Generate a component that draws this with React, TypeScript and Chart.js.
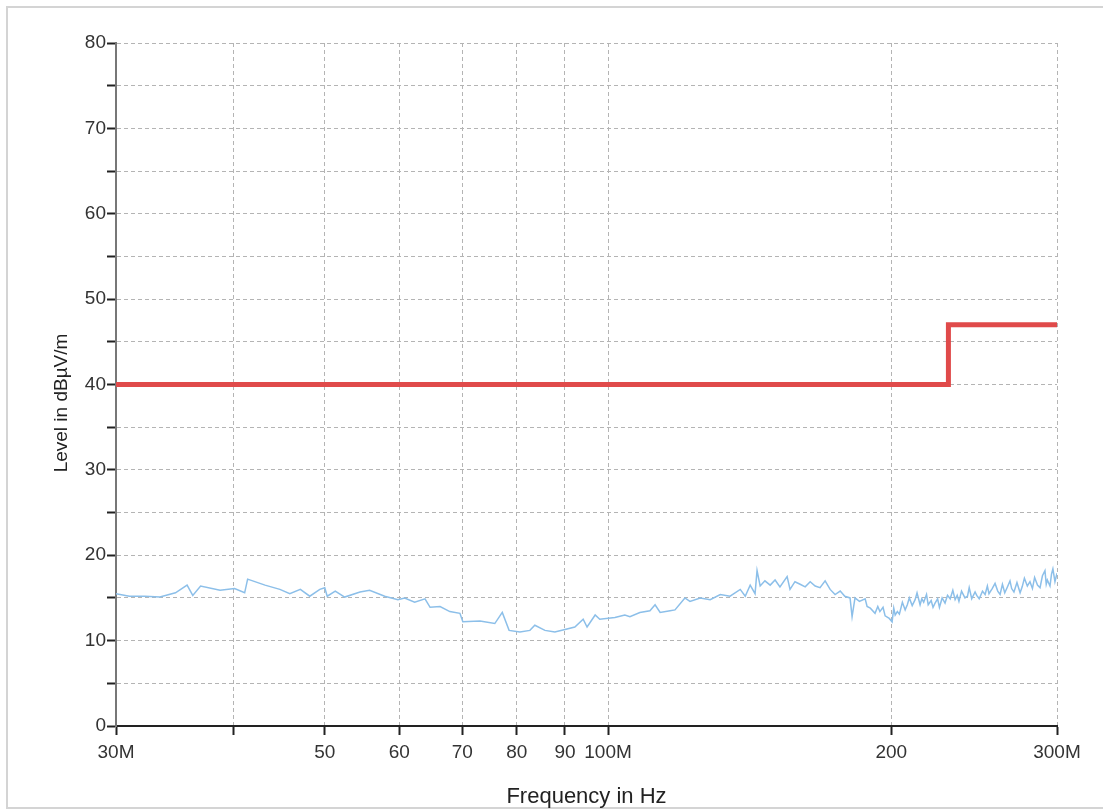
import React, { useEffect, useRef } from "react";
import { Chart, registerables } from "chart.js";

Chart.register(...registerables);

// Measured level: [frequency in MHz, level in dBµV/m]
const measurement: [number, number][] = [
  [30.0, 15.5], [31.0, 15.2], [32.2, 15.2], [33.4, 15.1], [34.7, 15.6], [35.7, 16.5], [36.2, 15.3],
  [36.9, 16.4], [38.7, 15.9], [40.1, 16.1], [41.1, 15.6], [41.4, 17.2], [43.2, 16.5], [44.8, 16.0],
  [45.9, 15.5], [47.1, 16.0], [48.2, 15.2], [49.4, 16.0], [50.0, 16.2], [50.3, 15.2], [51.3, 15.8],
  [52.5, 15.1], [54.5, 15.7], [55.8, 15.9], [57.9, 15.2], [59.8, 14.8], [60.8, 15.0], [62.3, 14.5],
  [63.9, 14.9], [64.7, 13.9], [66.3, 14.0], [67.9, 13.4], [69.6, 13.2], [70.1, 12.2], [73.1, 12.3],
  [75.8, 12.0], [77.2, 13.3], [78.5, 11.2], [80.6, 11.0], [82.6, 11.2], [83.6, 11.8], [85.7, 11.2],
  [87.8, 11.0], [90.0, 11.3], [92.2, 11.6], [94.1, 12.5], [95.0, 11.6], [96.9, 13.0], [98.0, 12.5],
  [101.7, 12.7], [104.2, 13.0], [105.5, 12.8], [108.1, 13.3], [110.8, 13.5], [112.2, 14.2], [113.6, 13.3],
  [116.4, 13.5], [117.8, 13.6], [120.7, 15.0], [122.2, 14.6], [125.3, 15.0], [128.4, 14.8], [131.6, 15.4],
  [134.8, 15.2], [138.2, 16.0], [139.9, 15.2], [141.6, 16.5], [143.3, 15.5], [144.0, 18.2], [145.1, 16.4],
  [146.8, 17.0], [148.7, 16.5], [150.5, 17.1], [152.3, 16.3], [155.0, 17.5], [156.1, 16.0], [158.0, 16.9],
  [160.0, 16.6], [162.0, 16.3], [164.0, 16.9], [166.0, 16.4], [168.0, 16.2], [170.1, 17.0], [172.2, 16.0],
  [174.3, 15.4], [176.5, 15.8], [178.5, 15.2], [180.8, 15.0], [181.7, 12.8], [183.0, 15.0], [185.0, 14.6],
  [187.6, 14.9], [188.5, 14.0], [190.0, 13.8], [192.2, 13.2], [193.5, 14.0], [194.5, 13.4], [196.0, 13.9],
  [197.0, 12.9], [199.0, 12.6], [200.4, 12.2], [201.2, 13.8], [201.9, 13.0], [203.0, 13.4], [204.0, 13.1],
  [205.5, 14.5], [206.9, 13.6], [208.0, 14.2], [209.0, 15.0], [210.5, 14.1], [212.0, 14.8], [213.0, 15.6],
  [214.6, 14.2], [215.5, 14.9], [216.5, 14.5], [218.0, 15.4], [218.9, 14.2], [220.5, 14.7], [221.5, 13.9],
  [222.6, 14.4], [224.0, 14.9], [225.0, 13.9], [226.5, 15.0], [228.1, 14.4], [229.5, 15.3], [231.0, 14.9],
  [232.5, 15.9], [233.8, 14.8], [235.0, 15.3], [236.0, 14.6], [237.5, 15.8], [239.5, 15.0], [241.0, 15.2],
  [242.0, 16.2], [243.5, 14.9], [245.5, 15.7], [246.5, 15.3], [248.0, 14.9], [250.0, 15.8], [251.6, 15.4],
  [253.0, 16.4], [254.0, 15.5], [256.0, 16.1], [257.8, 16.7], [259.5, 15.8], [261.0, 15.4], [262.5, 16.6],
  [264.0, 15.6], [265.5, 16.2], [267.4, 17.0], [268.5, 16.1], [270.0, 15.7], [272.0, 16.8], [274.1, 15.6],
  [275.5, 16.3], [277.0, 17.3], [279.0, 16.4], [280.8, 16.9], [282.5, 16.1], [284.0, 17.4], [286.0, 16.5],
  [287.8, 16.2], [289.5, 17.6], [291.3, 18.2], [292.2, 16.6], [293.0, 17.1], [294.9, 16.4], [296.0, 17.8],
  [297.0, 18.4], [298.5, 16.9], [300.0, 17.9],
];

// Limit line (stepped at 230 MHz)
const limitFreq = [30, 230, 230, 300];
const limitLevel = [40, 40, 47, 47];

const xTickValues = [30, 40, 50, 60, 70, 80, 90, 100, 200, 300];
const xTickLabels = ["30M", "", "50", "60", "70", "80", "90", "100M", "200", "300M"];

const yTitle = "Level in dBµV/m";
const xTitle = "Frequency in Hz";

const FONT = "'Liberation Sans', Arial, sans-serif";

const gridOpts: any = {
  color: "#b4b4b4",
  lineWidth: 1,
  drawTicks: true,
  tickLength: 9,
  tickColor: "#222",
  tickWidth: 2,
  tickBorderDash: [],
};

const yTitlePlugin = {
  id: "yTitlePlugin",
  afterDraw(chart: any) {
    const { ctx } = chart;
    ctx.save();
    ctx.translate(62, 403);
    ctx.rotate(-Math.PI / 2);
    ctx.fillStyle = "#222";
    ctx.font = `19px ${FONT}`;
    ctx.textAlign = "center";
    ctx.textBaseline = "middle";
    ctx.fillText(yTitle, 0, 0);
    ctx.restore();
  },
};

export default function App() {
  const ref = useRef<HTMLCanvasElement | null>(null);

  useEffect(() => {
    if (!ref.current) return;
    const chart = new Chart(ref.current, {
      type: "line",
      data: {
        datasets: [
          {
            label: "Limit",
            data: limitFreq.map((f, i) => ({ x: f, y: limitLevel[i] })),
            borderColor: "#e04a4a",
            borderWidth: 5,
            pointRadius: 0,
            tension: 0,
            order: 1,
          },
          {
            label: "Measurement",
            data: measurement.map(([f, v]) => ({ x: f, y: v })),
            borderColor: "#8cbfe9",
            borderWidth: 1.5,
            pointRadius: 0,
            tension: 0,
            order: 2,
          },
        ],
      },
      plugins: [yTitlePlugin],
      options: {
        responsive: false,
        animation: false,
        layout: { padding: { top: 43, right: 46, left: 0, bottom: 0 } },
        plugins: { legend: { display: false }, tooltip: { enabled: false } },
        scales: {
          x: {
            type: "logarithmic",
            min: 30,
            max: 300,
            afterBuildTicks: (scale: any) => {
              scale.ticks = xTickValues.map((v) => ({ value: v }));
            },
            afterFit: (scale: any) => {
              scale.height = 84;
            },
            ticks: {
              autoSkip: false,
              maxRotation: 0,
              padding: 6,
              color: "#333",
              font: { family: FONT, size: 19 },
              callback: (value: any) => {
                const i = xTickValues.indexOf(Number(value));
                return i >= 0 ? xTickLabels[i] : "";
              },
            },
            grid: gridOpts,
            border: { display: true, color: "#222", width: 2, dash: [4, 3] },
            title: {
              display: true,
              text: xTitle,
              color: "#222",
              font: { family: FONT, size: 22 },
              padding: { top: 2, bottom: 0 },
            },
          },
          y: {
            type: "linear",
            min: 0,
            max: 80,
            afterFit: (scale: any) => {
              scale.width = 116;
            },
            ticks: {
              stepSize: 5,
              padding: 1,
              color: "#333",
              font: { family: FONT, size: 19 },
              callback: (value: any) => (Number(value) % 10 === 0 ? String(value) : ""),
            },
            grid: gridOpts,
            border: { display: true, color: "#777", width: 2, dash: [4, 3] },
          },
        },
      },
    });
    return () => chart.destroy();
  }, []);

  return (
    <div style={{ position: "absolute", left: 0, top: 0, width: 1103, height: 810, overflow: "hidden", background: "#fff" }}>
      <div
        style={{
          position: "absolute",
          left: 6,
          top: 6,
          width: 1110,
          height: 803,
          border: "2px solid #d4d4d4",
          boxSizing: "border-box",
        }}
      />
      <canvas ref={ref} width={1103} height={810} style={{ position: "absolute", left: 0, top: 0 }} />
    </div>
  );
}
